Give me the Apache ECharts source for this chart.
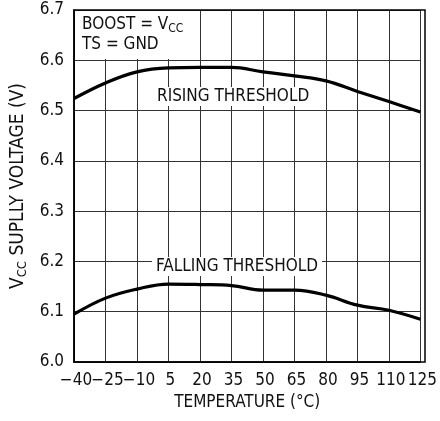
<!DOCTYPE html>
<html>
<head>
<meta charset="utf-8">
<script src="https://cdn.jsdelivr.net/npm/echarts@6/dist/echarts.min.js"></script>
<style>
  html, body { margin: 0; padding: 0; background: #fff; }
  #chart { width: 440px; height: 421px; }
</style>
</head>
<body>
<div id="chart"></div>
<script>
// ── Data ────────────────────────────────────────
const temperatures = [-40, -25, -10, 5, 20, 35, 50, 65, 80, 95, 110, 125];
const risingThreshold  = [6.524, 6.555, 6.577, 6.585, 6.586, 6.586, 6.577, 6.569, 6.559, 6.538, 6.518, 6.497];
const fallingThreshold = [6.095, 6.127, 6.145, 6.155, 6.154, 6.152, 6.143, 6.143, 6.133, 6.113, 6.103, 6.085];

const FONT = '"Liberation Sans Narrow", "DejaVu Sans Condensed", sans-serif';

const chart = echarts.init(document.getElementById('chart'), null, { renderer: 'canvas' });

function fmtTemp(v) {
    return String(v).replace('-', '\u2212');
}

chart.setOption({
    backgroundColor: '#fff',
    animation: false,
    grid: { left: 74, right: 15, top: 10, bottom: 59, containLabel: false },
    xAxis: {
        type: 'category',
        data: temperatures.map(String),
        boundaryGap: false,
        name: 'TEMPERATURE (\u00B0C)',
        nameLocation: 'middle',
        nameGap: 28,
        nameTextStyle: { fontFamily: FONT, fontSize: 17, color: '#111' },
        axisLine: { lineStyle: { color: '#000', width: 1.5 } },
        axisTick: { show: false },
        axisLabel: {
            fontFamily: FONT, fontSize: 17, color: '#111', margin: 10,
            interval: 0, formatter: fmtTemp, padding: [0, 0, 0, 4]
        },
        splitLine: { show: true, lineStyle: { color: '#333', width: 1 } }
    },
    yAxis: {
        type: 'value',
        min: 6.0,
        max: 6.7,
        interval: 0.1,
        name: '{v|V}{s|CC}{v| SUPLLY VOLTAGE (V)}',
        nameLocation: 'middle',
        nameGap: 42,
        nameTextStyle: {
            fontFamily: FONT, fontSize: 19, color: '#111',
            rich: {
                v: { fontFamily: FONT, fontSize: 19, color: '#111', lineHeight: 22 },
                s: { fontFamily: FONT, fontSize: 13, color: '#111', lineHeight: 22, verticalAlign: 'bottom', padding: [7, 0, 0, 0] }
            }
        },
        axisLine: { show: true, lineStyle: { color: '#000', width: 1.5 } },
        axisTick: { show: false },
        axisLabel: {
            fontFamily: FONT, fontSize: 17, color: '#111', margin: 10,
            formatter: function (v) { return v.toFixed(1); }
        },
        splitLine: { show: true, lineStyle: { color: '#333', width: 1 } }
    },
    graphic: [
        // plot frame (top/right edges)
        {
            type: 'rect', z: 90, silent: true,
            shape: { x: 74, y: 10, width: 351, height: 352 },
            style: { fill: 'none', stroke: '#000', lineWidth: 1.5 }
        },
        // condition box, top-left
        {
            type: 'rect', z: 80, silent: true,
            shape: { x: 75, y: 11, width: 114, height: 48 },
            style: { fill: '#fff' }
        },
        {
            type: 'text', z: 100, left: 82, top: 16, silent: true,
            style: {
                text: '{v|BOOST = V}{s|CC}\n{v|TS = GND}',
                rich: {
                    v: { fontFamily: FONT, fontSize: 17, fill: '#111', lineHeight: 20 },
                    s: { fontFamily: FONT, fontSize: 12, fill: '#111', lineHeight: 20, verticalAlign: 'bottom', padding: [6, 0, 0, 0] }
                }
            }
        },
        {
            type: 'text', z: 100, left: 153, top: 87, silent: true,
            style: {
                text: 'RISING THRESHOLD',
                fontFamily: FONT, fontSize: 17, fill: '#111',
                backgroundColor: '#fff', padding: [1, 4, 1, 4]
            }
        },
        {
            type: 'text', z: 100, left: 152, top: 257, silent: true,
            style: {
                text: 'FALLING THRESHOLD',
                fontFamily: FONT, fontSize: 17, fill: '#111',
                backgroundColor: '#fff', padding: [1, 4, 1, 4]
            }
        }
    ],
    series: [
        {
            name: 'Rising',
            type: 'line',
            data: risingThreshold,
            smooth: 0.4,
            symbol: 'none',
            lineStyle: { color: '#000', width: 3.2 },
            z: 5
        },
        {
            name: 'Falling',
            type: 'line',
            data: fallingThreshold,
            smooth: 0.4,
            symbol: 'none',
            lineStyle: { color: '#000', width: 3.2 },
            z: 5
        }
    ]
});
</script>
</body>
</html>
